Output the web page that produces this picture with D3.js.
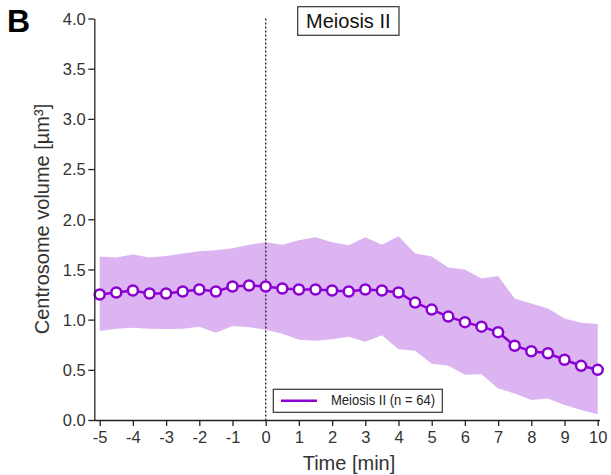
<!DOCTYPE html>
<html><head><meta charset="utf-8">
<script src="https://cdn.jsdelivr.net/npm/d3@7"></script>
<style>body{margin:0;background:#fff}svg{display:block;font-family:Arial,"Liberation Sans",sans-serif}</style>
</head><body>
<svg id="c" width="611" height="475"></svg>
<script>
const times = [-5,-4.5,-4,-3.5,-3,-2.5,-2,-1.5,-1,-0.5,0,0.5,1,1.5,2,2.5,3,3.5,4,4.5,5,5.5,6,6.5,7,7.5,8,8.5,9,9.5,10];
const meanVol = [1.25,1.27,1.29,1.26,1.26,1.28,1.30,1.28,1.33,1.34,1.33,1.31,1.30,1.30,1.29,1.28,1.30,1.29,1.27,1.17,1.10,1.03,0.975,0.93,0.875,0.74,0.685,0.665,0.60,0.54,0.50];
const upperVol = [1.63,1.62,1.65,1.62,1.635,1.66,1.68,1.69,1.71,1.745,1.77,1.745,1.79,1.82,1.77,1.74,1.82,1.745,1.83,1.66,1.63,1.52,1.50,1.41,1.435,1.21,1.16,1.11,1.01,0.97,0.957];
const lowerVol = [0.887,0.91,0.92,0.91,0.907,0.91,0.93,0.87,0.937,0.925,0.90,0.86,0.80,0.79,0.805,0.83,0.78,0.845,0.705,0.69,0.56,0.54,0.45,0.455,0.315,0.265,0.20,0.215,0.15,0.10,0.057];
const xTicks = [-5,-4,-3,-2,-1,0,1,2,3,4,5,6,7,8,9,10];
const yTicks = [0,0.5,1,1.5,2,2.5,3,3.5,4];
const seriesName = "Meiosis II (n = 64)";
const title = "Meiosis II";

const svg = d3.select("#c");
const x = d3.scaleLinear().domain([-5,10]).range([99.7,597.7]);
const y = d3.scaleLinear().domain([0,4]).range([420,18.5]);
const purple = "#8a00d2", band = "#dbb4f1";
const FF = "Arial,'Liberation Sans',sans-serif";

const data = times.map((t,i)=>({t, m:meanVol[i], u:upperVol[i], l:lowerVol[i]}));

svg.append("path").datum(data)
  .attr("d", d3.area().x(d=>x(d.t)).y0(d=>y(d.l)).y1(d=>y(d.u)))
  .attr("fill", band);

// vertical dotted line at 0
svg.append("line").attr("x1",x(0)).attr("x2",x(0)).attr("y1",y(4)).attr("y2",y(0))
  .attr("stroke","#222").attr("stroke-width",1.3).attr("stroke-dasharray","2,2");

svg.append("path").datum(data)
  .attr("d", d3.line().x(d=>x(d.t)).y(d=>y(d.m)))
  .attr("fill","none").attr("stroke",purple).attr("stroke-width",2.5);
svg.selectAll("circle.pt").data(data).enter().append("circle")
  .attr("cx",d=>x(d.t)).attr("cy",d=>y(d.m)).attr("r",5)
  .attr("fill","#fff").attr("stroke",purple).attr("stroke-width",2.5);

// axes
const xAxis = svg.append("g").attr("transform","translate(0,420)")
  .call(d3.axisBottom(x).tickValues(xTicks).tickSize(6).tickSizeOuter(0).tickFormat(d=>String(d)));
xAxis.select(".domain").attr("d","M94.3,0.5H600");
const yAxis = svg.append("g").attr("transform","translate(94.3,0)")
  .call(d3.axisLeft(y).tickValues(yTicks).tickSize(6).tickSizeOuter(0).tickFormat(d3.format(".1f")));
[xAxis,yAxis].forEach(g=>{
  g.selectAll("path,line").attr("stroke","#222").attr("stroke-width",1.3);
  g.selectAll("text").attr("fill","#333").style("font-size","16.5px").style("font-family",FF);
});
xAxis.selectAll("text").attr("y",23).attr("dy","0");
yAxis.selectAll("text").attr("x",-8.5).attr("dy","0.35em");

svg.append("text").attr("x",349).attr("y",470).attr("text-anchor","middle")
  .attr("fill","#333").style("font-size","20px").text("Time [min]");
svg.append("text").attr("transform","translate(49,219) rotate(-90)").attr("text-anchor","middle")
  .attr("fill","#333").style("font-size","20px").text("Centrosome volume [µm³]");

svg.append("text").attr("x",7).attr("y",32).attr("font-weight","bold")
  .style("font-size","32px").attr("fill","#000").text("B");

// title box
svg.append("rect").attr("x",297.7).attr("y",6.7).attr("width",101.3).attr("height",28.6)
  .attr("fill","#fff").attr("stroke","#333").attr("stroke-width",1.2);
svg.append("text").attr("x",348.3).attr("y",28.3).attr("text-anchor","middle")
  .style("font-size","20px").attr("fill","#111").text(title);

// legend
svg.append("rect").attr("x",273.3).attr("y",389.3).attr("width",169).attr("height",23)
  .attr("fill","#fff").attr("stroke","#333").attr("stroke-width",1.2);
svg.append("line").attr("x1",281).attr("x2",317).attr("y1",400.7).attr("y2",400.7)
  .attr("stroke",purple).attr("stroke-width",2.5);
svg.append("text").attr("x",331).attr("y",405).style("font-size","14px").attr("fill","#222")
  .attr("textLength",104).attr("lengthAdjust","spacingAndGlyphs").text(seriesName);
</script>
</body></html>
